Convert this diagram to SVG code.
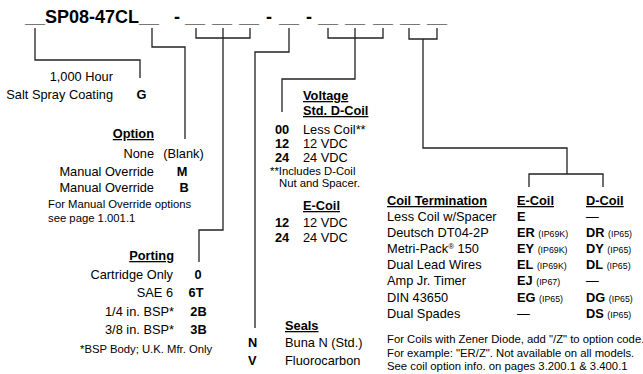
<svg xmlns="http://www.w3.org/2000/svg" width="643" height="374" viewBox="0 0 643 374">
<style>
text{font-family:"Liberation Sans",Arial,Helvetica,sans-serif;fill:#000;font-size:12.8px}
.t{font-size:18px;font-weight:bold}
.b{font-weight:bold}
.h{font-weight:bold;text-decoration:underline}
.s{font-size:11.3px}
.ip{font-size:8.8px}
.e{text-anchor:end}
.m{text-anchor:middle}
.c{fill:none;stroke:#222;stroke-width:1.3}
</style>
<rect width="643" height="374" fill="#fff"/>
<g id="title">
<text class="t" x="25" y="23">__SP08-47CL__</text>
<text class="t" x="174" y="23">-</text>
<text class="t" x="185" y="23">__</text>
<text class="t" x="212" y="23">__</text>
<text class="t" x="239" y="23">__</text>
<text class="t" x="266" y="23">-</text>
<text class="t" x="279" y="23">__</text>
<text class="t" x="306" y="23">-</text>
<text class="t" x="318" y="23">__</text>
<text class="t" x="345" y="23">__</text>
<text class="t" x="373" y="23">__</text>
<text class="t" x="400" y="23">__</text>
<text class="t" x="427" y="23">__</text>
</g>
<g id="connectors">
<path class="c" d="M35,28V60H140V78"/>
<path class="c" d="M152,28V47H185V139"/>
<path class="c" d="M196,28V38H250V28M223,28V230H199V262"/>
<path class="c" d="M289,28V52H255V328"/>
<path class="c" d="M328,28V38H383V28M355,28V79H282V112"/>
<path class="c" d="M409,28V39H437V28M423,39V148H567V174M529,187V174H603V187"/>
</g>
<g id="salt-spray">
<text class="e" x="113" y="81">1,000 Hour</text>
<text class="e" x="113" y="99">Salt Spray Coating</text>
<text class="b m" x="141.5" y="99">G</text>
</g>
<g id="option">
<text class="h e" x="154" y="138">Option</text>
<text class="e" x="154" y="158">None</text>
<text class="m" x="183.5" y="158">(Blank)</text>
<text class="e" x="154" y="175.5">Manual Override</text>
<text class="b m" x="182" y="175.5">M</text>
<text class="e" x="154" y="192">Manual Override</text>
<text class="b m" x="184" y="192">B</text>
<text class="s" x="48" y="208">For Manual Override options</text>
<text class="s" x="48" y="222">see page 1.001.1</text>
</g>
<g id="porting">
<text class="h e" x="174" y="260">Porting</text>
<text class="e" x="173" y="278.5">Cartridge Only</text>
<text class="b m" x="198" y="278.5">0</text>
<text class="e" x="173" y="297">SAE 6</text>
<text class="b m" x="196" y="297">6T</text>
<text class="e" x="174" y="315.5">1/4 in. BSP*</text>
<text class="b m" x="198.5" y="315.5">2B</text>
<text class="e" x="174" y="334">3/8 in. BSP*</text>
<text class="b m" x="198.5" y="334">3B</text>
<text class="s" x="80" y="353">*BSP Body; U.K. Mfr. Only</text>
</g>
<g id="seals">
<text class="h" x="285" y="330">Seals</text>
<text class="b" x="248" y="347">N</text>
<text x="285" y="347">Buna N (Std.)</text>
<text class="b" x="248" y="364.5">V</text>
<text x="285" y="364.5">Fluorocarbon</text>
</g>
<g id="voltage">
<text class="h" x="303" y="100">Voltage</text>
<text class="h" x="303" y="115">Std. D-Coil</text>
<text class="b" x="275" y="133.5">00</text>
<text x="303" y="133.5">Less Coil**</text>
<text class="b" x="275" y="148">12</text>
<text x="303" y="148">12 VDC</text>
<text class="b" x="275" y="162">24</text>
<text x="303" y="162">24 VDC</text>
<text class="s" x="270" y="175">**Includes D-Coil</text>
<text class="s" x="279" y="187">Nut and Spacer.</text>
<text class="h" x="303" y="210">E-Coil</text>
<text class="b" x="275" y="227">12</text>
<text x="303" y="227">12 VDC</text>
<text class="b" x="275" y="242">24</text>
<text x="303" y="242">24 VDC</text>
</g>
<g id="coil-termination">
<text class="h" x="387" y="205">Coil Termination</text>
<text class="h" x="517" y="205">E-Coil</text>
<text class="h" x="586" y="205">D-Coil</text>
<text x="387" y="221">Less Coil w/Spacer</text>
<text class="b" x="517" y="221">E</text>
<text x="586" y="221">—</text>
<text x="387" y="237">Deutsch DT04-2P</text>
<text x="517" y="237"><tspan class="b">ER</tspan> <tspan class="ip">(IP69K)</tspan></text>
<text x="586" y="237"><tspan class="b">DR</tspan> <tspan class="ip">(IP65)</tspan></text>
<text x="387" y="253">Metri-Pack<tspan font-size="8" dy="-4">®</tspan><tspan dy="4"> 150</tspan></text>
<text x="517" y="253"><tspan class="b">EY</tspan> <tspan class="ip">(IP69K)</tspan></text>
<text x="586" y="253"><tspan class="b">DY</tspan> <tspan class="ip">(IP65)</tspan></text>
<text x="387" y="269">Dual Lead Wires</text>
<text x="517" y="269"><tspan class="b">EL</tspan> <tspan class="ip">(IP69K)</tspan></text>
<text x="586" y="269"><tspan class="b">DL</tspan> <tspan class="ip">(IP65)</tspan></text>
<text x="387" y="285">Amp Jr. Timer</text>
<text x="517" y="285"><tspan class="b">EJ</tspan> <tspan class="ip">(IP67)</tspan></text>
<text x="586" y="285">—</text>
<text x="387" y="301.5">DIN 43650</text>
<text x="517" y="301.5"><tspan class="b">EG</tspan> <tspan class="ip">(IP65)</tspan></text>
<text x="586" y="301.5"><tspan class="b">DG</tspan> <tspan class="ip">(IP65)</tspan></text>
<text x="387" y="318">Dual Spades</text>
<text x="517" y="318">—</text>
<text x="586" y="318"><tspan class="b">DS</tspan> <tspan class="ip">(IP65)</tspan></text>
<text class="s" x="387" y="343">For Coils with Zener Diode, add "/Z" to option code.</text>
<text class="s" x="387" y="357">For example: "ER/Z". Not available on all models.</text>
<text class="s" x="387" y="370">See coil option info. on pages 3.200.1 &amp; 3.400.1</text>
</g>
</svg>
